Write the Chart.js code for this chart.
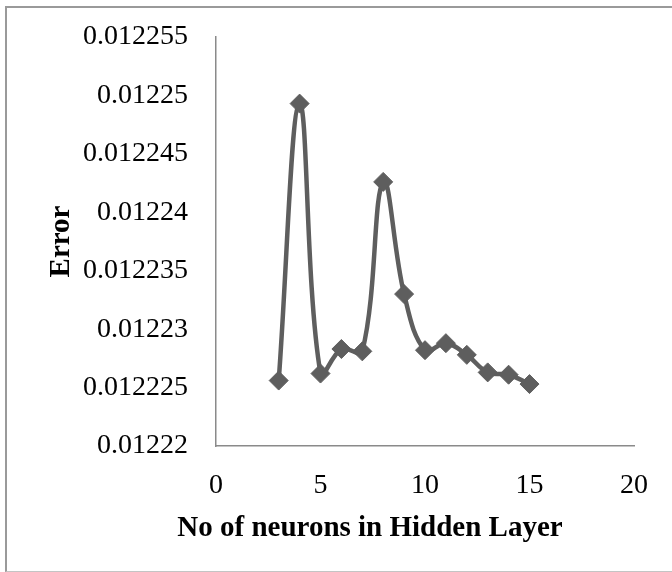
<!DOCTYPE html>
<html>
<head>
<meta charset="utf-8">
<script src="https://cdn.jsdelivr.net/npm/chart.js@4"></script>
<style>
  html, body { margin: 0; padding: 0; background: #fff; overflow: hidden; }
  #wrap { position: relative; width: 672px; height: 572px; }
  #frame { position: absolute; left: 5px; top: 6px; width: 700px; height: 563px;
           border-left: 2px solid #9a9a9a; border-top: 2px solid #9a9a9a; border-bottom: 1px solid #c4c4c4;
           pointer-events: none; }
  canvas { position: absolute; left: 0; top: 0; }
</style>
</head>
<body>
<div id="wrap">
  <canvas id="c" width="672" height="572"></canvas>
  <div id="frame"></div>
</div>
<script>
// ---- data ----
const neurons = [3, 4, 5, 6, 7, 8, 9, 10, 11, 12, 13, 14, 15];
const errors = [0.0122256, 0.0122493, 0.0122262, 0.0122283, 0.0122281, 0.0122426, 0.0122330,
                0.0122282, 0.0122288, 0.0122278, 0.0122263, 0.0122261, 0.0122253];
const xTicks = [0, 5, 10, 15, 20];
const yTicks = [0.01222, 0.012225, 0.01223, 0.012235, 0.01224, 0.012245, 0.01225, 0.012255];
const xTitle = 'No of neurons in Hidden Layer';
const yTitle = 'Error';

const FONT = "'Liberation Serif', 'Times New Roman', serif";
const LINE_COLOR = '#5e5e5e';
const AXIS_COLOR = '#8a8a8a';

const xTitlePlugin = {
  id: 'xTitle',
  afterDraw(chart) {
    const ctx = chart.ctx;
    ctx.save();
    ctx.font = 'bold 29px ' + FONT;
    ctx.fillStyle = '#000';
    ctx.textAlign = 'center';
    ctx.textBaseline = 'alphabetic';
    ctx.fillText(xTitle, 370, 536);
    ctx.restore();
  }
};

new Chart(document.getElementById('c'), {
  type: 'line',
  data: {
    datasets: [{
      data: neurons.map((n, i) => ({ x: n, y: errors[i] })),
      borderColor: LINE_COLOR,
      backgroundColor: LINE_COLOR,
      borderWidth: 4.5,
      tension: 0.4,
      pointStyle: 'rectRot',
      pointRadius: 9.5,
      pointBorderWidth: 1,
      pointBackgroundColor: LINE_COLOR,
      pointBorderColor: LINE_COLOR,
      fill: false
    }]
  },
  options: {
    responsive: false,
    animation: false,
    devicePixelRatio: 1,
    layout: { padding: { left: 0, top: 37, right: 38, bottom: 0 } },
    plugins: { legend: { display: false }, tooltip: { enabled: false } },
    scales: {
      x: {
        type: 'linear',
        min: xTicks[0],
        max: xTicks[xTicks.length - 1],
        afterBuildTicks: s => { s.ticks = xTicks.map(v => ({ value: v })); },
        afterFit: s => { s.height = 126; },
        grid: { display: false, drawTicks: false },
        border: { display: true, color: AXIS_COLOR, width: 1.5 },
        ticks: { color: '#000', font: { family: FONT, size: 28 }, padding: 23, maxRotation: 0,
                 callback: v => String(v) }
      },
      y: {
        type: 'linear',
        min: yTicks[0],
        max: yTicks[yTicks.length - 1],
        afterBuildTicks: s => { s.ticks = yTicks.map(v => ({ value: v })); },
        afterFit: s => { s.width = 216; },
        grid: { display: false, drawTicks: true, tickLength: 8 },
        border: { display: true, color: AXIS_COLOR, width: 1.5 },
        ticks: { color: '#000', font: { family: FONT, size: 28 }, padding: 20,
                 callback: v => String(v) },
        title: { display: true, text: yTitle, color: '#000',
                 font: { family: FONT, size: 29, weight: 'bold' }, padding: { top: 44.6, bottom: 0 } }
      }
    }
  },
  plugins: [xTitlePlugin]
});
</script>
</body>
</html>
